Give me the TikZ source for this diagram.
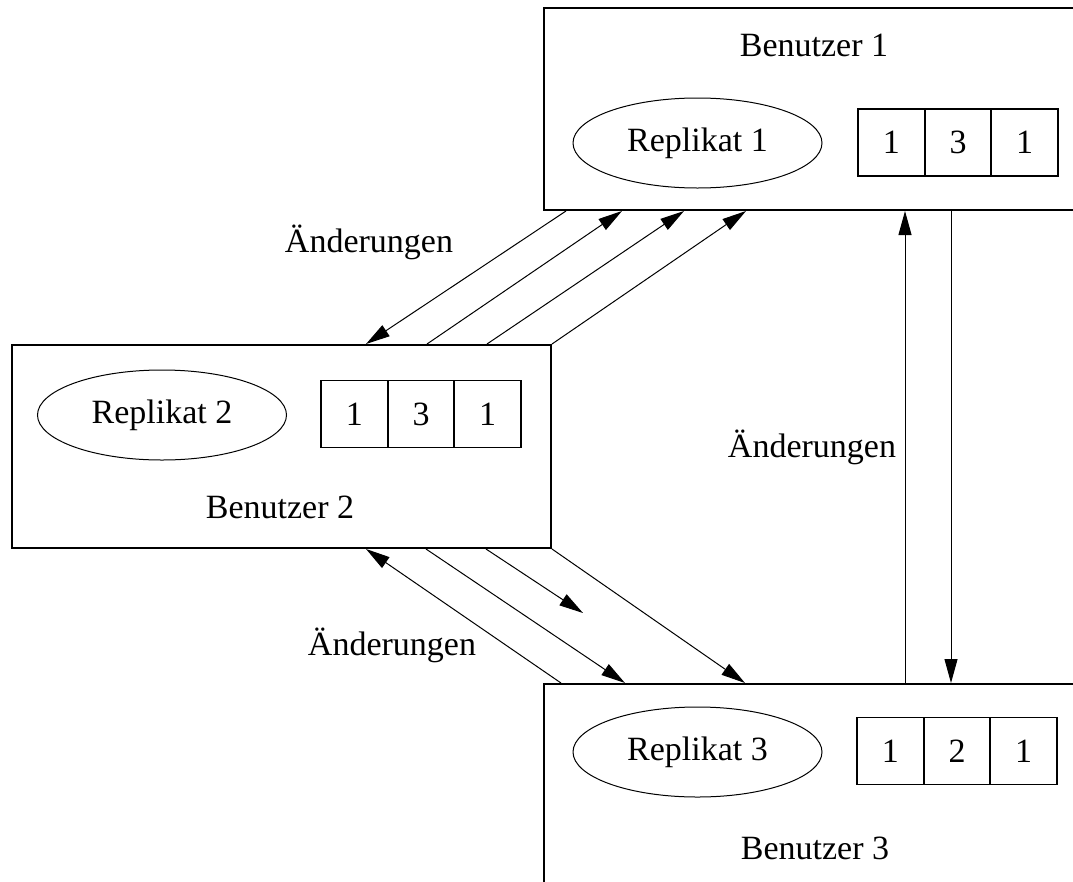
\documentclass[tikz,border=0pt]{standalone}
\usepackage{fontspec}
\setmainfont{Liberation Serif}
\usetikzlibrary{arrows.meta,shapes.geometric}

\begin{document}
\begin{tikzpicture}[x=1pt,y=-1pt,
  every node/.style={font=\fontsize{34pt}{40pt}\selectfont},
  userbox/.style={draw,line width=2pt,rectangle,inner sep=0pt},
  replica/.style={draw,ellipse,line width=1pt,minimum width=249pt,minimum height=90pt,inner sep=0pt},
  cell/.style={draw,line width=1.8pt,minimum width=66.7pt,minimum height=67pt,inner sep=0pt},
  txt/.style={inner sep=0pt},
  flow/.style={line width=1pt,-{Triangle[length=24pt,width=13pt]}}
]
\useasboundingbox (0,0) rectangle (1073,881);
\clip (0,0) rectangle (1073,881);

% user boxes (the right-hand ones run off the page)
\node[userbox,minimum width=541pt,minimum height=202pt] (b1) at (814.5,109) {};
\node[userbox,minimum width=539pt,minimum height=203pt] (b2) at (281.5,446.5) {};
\node[userbox,minimum width=541pt,minimum height=212pt] (b3) at (814.5,790) {};

% user 1
\node[txt] (u1) at (814,45) {Benutzer 1};
\node[replica] (r1) at (697.5,143) {Replikat 1};
\node[cell] (t1a) at (891.3,142.5) {1};
\node[cell] (t1b) at (958,142.5) {3};
\node[cell] (t1c) at (1024.7,142.5) {1};

% user 2
\node[txt] (u2) at (280,507) {Benutzer 2};
\node[replica] (r2) at (162,415) {Replikat 2};
\node[cell] (t2a) at (354.3,414) {1};
\node[cell] (t2b) at (421,414) {3};
\node[cell] (t2c) at (487.7,414) {1};

% user 3
\node[txt] (u3) at (815,848) {Benutzer 3};
\node[replica] (r3) at (697.5,752) {Replikat 3};
\node[cell] (t3a) at (890.3,751) {1};
\node[cell] (t3b) at (957,751) {2};
\node[cell] (t3c) at (1023.7,751) {1};

% change labels
\node[txt] (c12) at (369,242) {Änderungen};
\node[txt] (c23) at (392,645) {Änderungen};
\node[txt] (c13) at (812,447) {Änderungen};

% between user 1 and user 2
\draw[flow] ([xshift=23pt]b1.south west) -- ([xshift=355pt]b2.north west);
\draw[flow] ([xshift=416pt]b2.north west) -- ([xshift=79pt]b1.south west);
\draw[flow] ([xshift=476pt]b2.north west) -- ([xshift=141pt]b1.south west);
\draw[flow] (b2.north east) -- ([xshift=203pt]b1.south west);

% between user 2 and user 3
\coordinate (cEnd) at (583,613);
\draw[flow] ([xshift=18pt]b3.north west) -- ([xshift=355pt]b2.south west);
\draw[flow] ([xshift=415pt]b2.south west) -- ([xshift=82pt]b3.north west);
\draw[flow] ([xshift=475pt]b2.south west) -- (cEnd);
\draw[flow] (b2.south east) -- ([xshift=202pt]b3.north west);

% between user 3 and user 1
\draw[flow] ([xshift=362pt]b3.north west) -- ([xshift=362pt]b1.south west);
\draw[flow] ([xshift=408pt]b1.south west) -- ([xshift=408pt]b3.north west);
\end{tikzpicture}
\end{document}
